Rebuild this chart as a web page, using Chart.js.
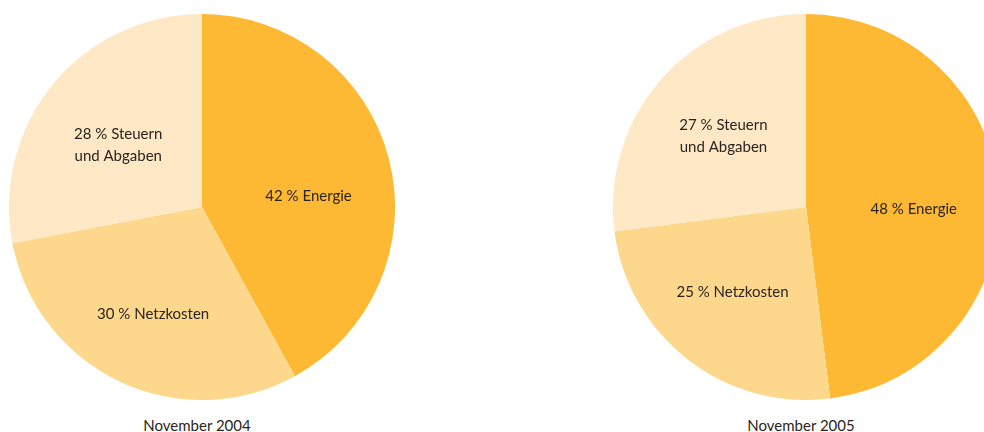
<!DOCTYPE html>
<html>
<head>
<meta charset="utf-8">
<script src="https://cdn.jsdelivr.net/npm/chart.js@4.4.0/dist/chart.umd.min.js"></script>
<style>
  html, body { margin: 0; padding: 0; background: #fff; overflow: hidden; }
  body { width: 984px; height: 432px; position: relative; font-family: Lato, "Open Sans", sans-serif; }
  .pie { position: absolute; top: 14px; }
  .caption { position: absolute; top: 416px; width: 300px; text-align: center; font-size: 15px; color: #2b2420; }
</style>
</head>
<body>
<canvas id="pie2004" class="pie" width="386" height="386" style="left:9px"></canvas>
<canvas id="pie2005" class="pie" width="386" height="386" style="left:613px"></canvas>
<div class="caption" style="left:47px">November 2004</div>
<div class="caption" style="left:651px">November 2005</div>
<script>
const categories = ["Energie", "Netzkosten", "Steuern und Abgaben"];
const labels2004 = [["42 % Energie"], ["30 % Netzkosten"], ["28 % Steuern", "und Abgaben"]];
const labels2005 = [["48 % Energie"], ["25 % Netzkosten"], ["27 % Steuern", "und Abgaben"]];
const values2004 = [42, 30, 28];
const values2005 = [48, 25, 27];
const sliceColors = ["#fdb933", "#fdd88c", "#fee8c6"];

// small nudges of the slice labels away from the mid-angle spot
const nudge2004 = [[0, 17], [-2, 8], [1, 8]];
const nudge2005 = [[-2, 9], [-6, -2], [0, 2]];

const sliceLabels = {
  id: "sliceLabels",
  afterDatasetsDraw(chart, args, opts) {
    const ctx = chart.ctx;
    const meta = chart.getDatasetMeta(0);
    ctx.save();
    ctx.font = "15px Lato, 'Open Sans', sans-serif";
    ctx.fillStyle = "#2b2420";
    ctx.textAlign = "center";
    ctx.textBaseline = "middle";
    meta.data.forEach((arc, i) => {
      const p = arc.getProps(["x", "y", "startAngle", "endAngle", "outerRadius"], true);
      const mid = (p.startAngle + p.endAngle) / 2;
      const r = p.outerRadius * 0.57;
      const lines = opts.text[i];
      const x = p.x + Math.cos(mid) * r + opts.nudge[i][0];
      const y = p.y + Math.sin(mid) * r + opts.nudge[i][1];
      lines.forEach((line, j) => {
        ctx.fillText(line, x, y + (j - (lines.length - 1) / 2) * 22);
      });
    });
    ctx.restore();
  }
};

function makePie(id, values, text, nudge) {
  new Chart(document.getElementById(id), {
    type: "pie",
    data: {
      labels: categories,
      datasets: [{
        data: values,
        backgroundColor: sliceColors,
        borderWidth: 0
      }]
    },
    options: {
      responsive: false,
      animation: false,
      layout: { padding: 0 },
      plugins: {
        legend: { display: false },
        tooltip: { enabled: false },
        sliceLabels: { text: text, nudge: nudge }
      }
    },
    plugins: [sliceLabels]
  });
}

makePie("pie2004", values2004, labels2004, nudge2004);
makePie("pie2005", values2005, labels2005, nudge2005);
</script>
</body>
</html>
